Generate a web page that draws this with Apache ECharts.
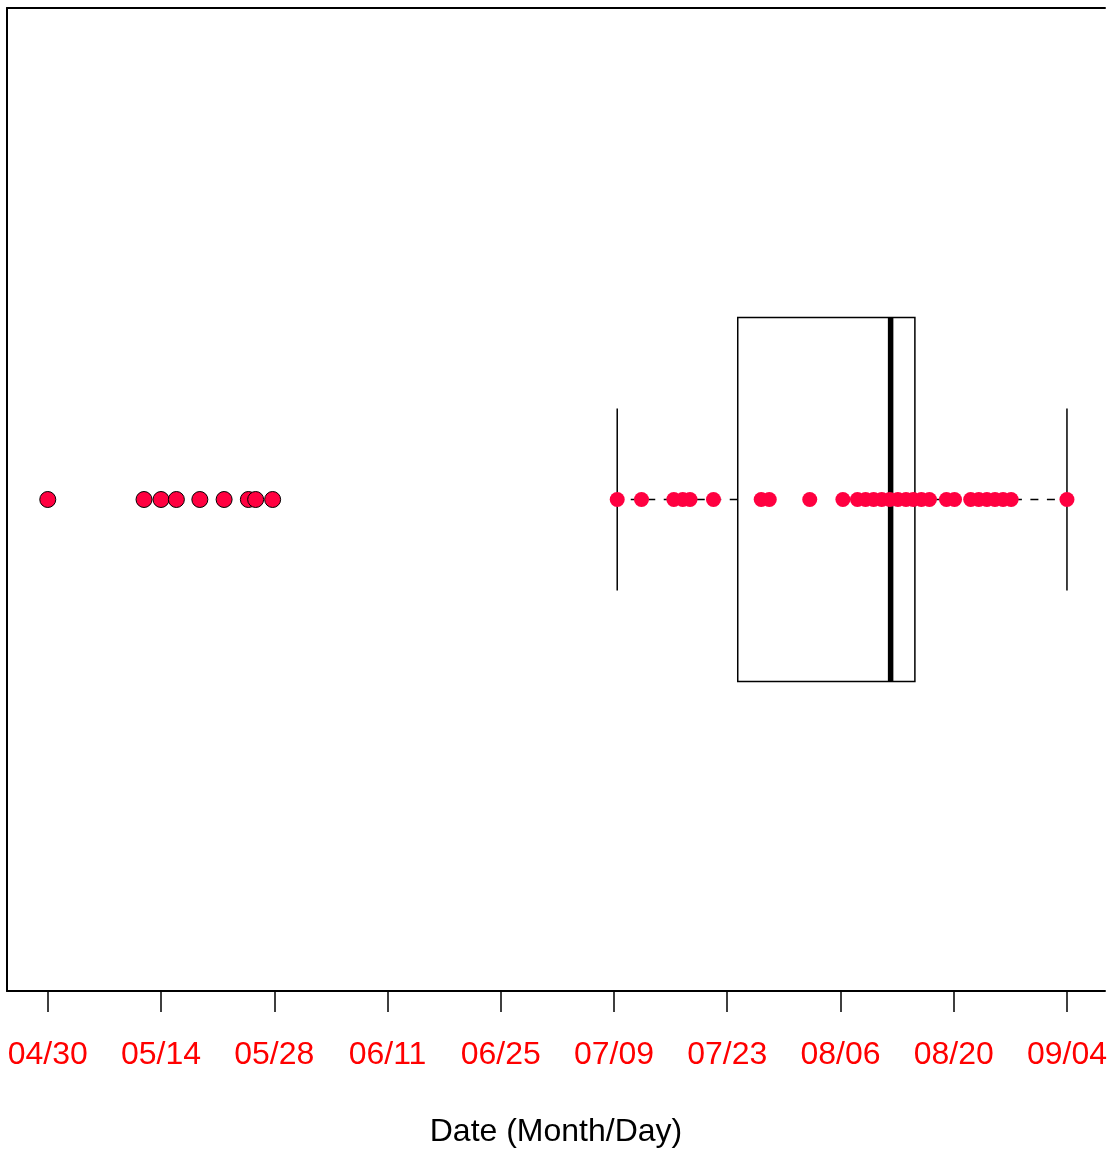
<!DOCTYPE html>
<html>
<head>
<meta charset="utf-8">
<style>
html,body{margin:0;padding:0;background:#fff;}
#chart{width:1110px;height:1153px;}
</style>
<script src="https://cdn.jsdelivr.net/npm/echarts@6/dist/echarts.min.js"></script>
</head>
<body>
<div id="chart"></div>
<script>
// Day offsets from 04/30
const tickDays = [0, 14, 28, 42, 56, 70, 84, 98, 112, 126];
const tickLabels = ['04/30', '05/14', '05/28', '06/11', '06/25', '07/09', '07/23', '08/06', '08/20', '09/04'];
// Outliers (drawn with black outline)
const outlierDays = [0, 11.9, 14.0, 15.9, 18.8, 21.8, 24.8, 25.7, 27.8];
// Points within whiskers
const pointDays = [70.4, 73.4, 77.4, 78.5, 79.4, 82.3, 88.2, 89.2, 94.2, 98.3,
  100.1, 101.1, 102.1, 103.1, 104.1, 105.1, 106.1, 107.0, 108.0, 109.0,
  111.1, 112.1, 114.1, 115.1, 116.1, 117.1, 118.1, 119.1, 126.0];
// Boxplot stats: lower whisker, Q1, median, Q3, upper whisker
const boxStats = [70.4, 85.3, 104.2, 107.2, 126.0];
const axisTitle = 'Date (Month/Day)';

const FONT = '"Liberation Sans", Arial, Helvetica, sans-serif';
const POINT_COLOR = '#FF0040';
const X_MIN = -5.04, X_MAX = 130.70;

const chart = echarts.init(document.getElementById('chart'), null, {renderer: 'canvas'});

function renderBox(params, api) {
  const lo = api.value(0), q1 = api.value(1), med = api.value(2), q3 = api.value(3), hi = api.value(4);
  const c = (x, y) => api.coord([x, y]);
  const boxHalf = 0.2, stapleHalf = 0.1;
  const a = c(q1, 1 + boxHalf), b = c(q3, 1 - boxHalf);
  const thin = {stroke: '#000', lineWidth: 1.5, fill: null};
  const dashed = {stroke: '#000', lineWidth: 1.5, lineDash: [8, 8.5]};
  return {
    type: 'group',
    children: [
      {type: 'line', shape: {x1: c(q1,1)[0], y1: c(q1,1)[1], x2: c(lo,1)[0], y2: c(lo,1)[1]}, style: dashed},
      {type: 'line', shape: {x1: c(q3,1)[0], y1: c(q3,1)[1], x2: c(hi,1)[0], y2: c(hi,1)[1]}, style: dashed},
      {type: 'line', shape: {x1: c(lo,1-stapleHalf)[0], y1: c(lo,1-stapleHalf)[1], x2: c(lo,1+stapleHalf)[0], y2: c(lo,1+stapleHalf)[1]}, style: thin},
      {type: 'line', shape: {x1: c(hi,1-stapleHalf)[0], y1: c(hi,1-stapleHalf)[1], x2: c(hi,1+stapleHalf)[0], y2: c(hi,1+stapleHalf)[1]}, style: thin},
      {type: 'rect', shape: {x: a[0], y: a[1], width: b[0] - a[0], height: b[1] - a[1]}, style: thin},
      {type: 'line', shape: {x1: c(med,1-boxHalf)[0], y1: c(med,1-boxHalf)[1], x2: c(med,1+boxHalf)[0], y2: c(med,1+boxHalf)[1]}, style: {stroke: '#000', lineWidth: 5.5}}
    ]
  };
}

chart.setOption({
  animation: false,
  backgroundColor: '#fff',
  grid: {left: 7, right: 0, top: 8, bottom: 154},
  xAxis: [
    {
      type: 'value', position: 'bottom',
      min: X_MIN, max: X_MAX,
      axisLine: {show: true, onZero: false, lineStyle: {color: '#000', width: 2}},
      splitLine: {show: false},
      axisTick: {show: true, customValues: tickDays, length: 21, lineStyle: {color: '#000', width: 1.5}},
      axisLabel: {
        customValues: tickDays,
        formatter: v => tickLabels[tickDays.indexOf(v)],
        color: '#FF0000', fontSize: 32, fontFamily: FONT, margin: 48
      },
      name: axisTitle,
      nameLocation: 'middle',
      nameGap: 125,
      nameTextStyle: {color: '#000', fontSize: 32, fontFamily: FONT}
    },
    {
      type: 'value', position: 'top',
      min: X_MIN, max: X_MAX,
      axisLine: {show: true, onZero: false, lineStyle: {color: '#000', width: 2}},
      axisTick: {show: false}, axisLabel: {show: false}, splitLine: {show: false}
    }
  ],
  yAxis: {
    type: 'value', position: 'left', min: 0.46, max: 1.54,
    axisLine: {show: true, onZero: false, lineStyle: {color: '#000', width: 2}},
    axisTick: {show: false}, axisLabel: {show: false}, splitLine: {show: false}
  },
  series: [
    {
      type: 'custom',
      renderItem: renderBox,
      data: [boxStats],
      z: 1,
      silent: true
    },
    {
      type: 'scatter',
      data: pointDays.map(d => [d, 1]),
      symbol: 'circle', symbolSize: 15,
      itemStyle: {color: POINT_COLOR, opacity: 1},
      z: 3
    },
    {
      type: 'scatter',
      data: outlierDays.map(d => [d, 1]),
      symbol: 'circle', symbolSize: 16,
      itemStyle: {color: POINT_COLOR, borderColor: '#000', borderWidth: 1, opacity: 1},
      z: 4
    }
  ]
});
</script>
</body>
</html>
